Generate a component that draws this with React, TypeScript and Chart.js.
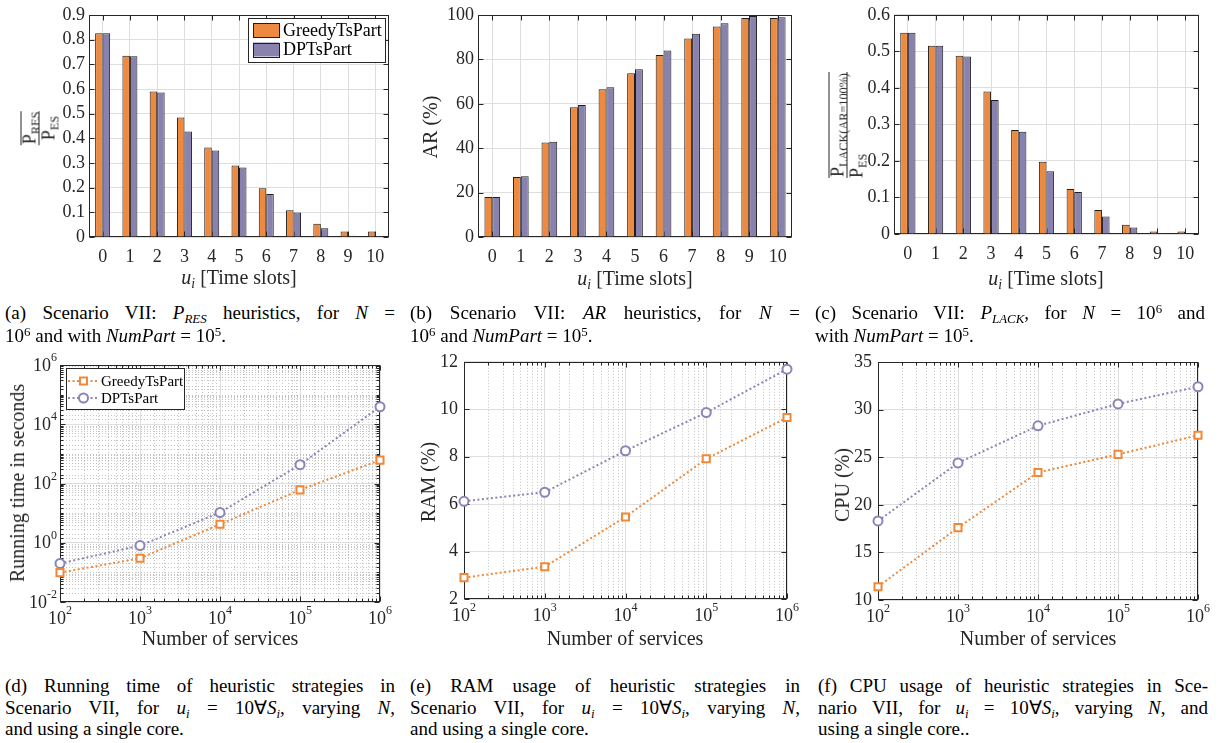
import React, { useEffect, useRef } from "react";
import { Chart, registerables } from "chart.js";

Chart.register(...registerables);

// ---------- data ----------
const slotLabels = ["0", "1", "2", "3", "4", "5", "6", "7", "8", "9", "10"];
const seriesNames = ["GreedyTsPart", "DPTsPart"];
const presGreedy = [0.826, 0.735, 0.59, 0.484, 0.363, 0.29, 0.198, 0.108, 0.054, 0.022, 0.022];
const presDP = [0.826, 0.733, 0.586, 0.428, 0.351, 0.282, 0.174, 0.099, 0.035, 0.005, 0.004];
const arGreedy = [18.0, 27.0, 42.6, 58.5, 66.6, 73.8, 82.0, 89.4, 94.8, 98.7, 98.7];
const arDP = [18.0, 27.4, 42.9, 59.5, 67.5, 75.6, 84.0, 91.5, 96.3, 99.6, 99.0];
const plackGreedy = [0.551, 0.515, 0.488, 0.39, 0.285, 0.198, 0.123, 0.066, 0.025, 0.007, 0.007];
const plackDP = [0.551, 0.515, 0.486, 0.367, 0.28, 0.172, 0.115, 0.048, 0.018, 0.003, 0.001];
const services = [1e2, 1e3, 1e4, 1e5, 1e6];
const runGreedy = [0.098, 0.3, 4.2, 61, 615];
const runDP = [0.2, 0.8, 10.5, 430, 39000];
const ramGreedy = [2.9, 3.36, 5.46, 7.91, 9.65];
const ramDP = [6.12, 6.5, 8.25, 9.86, 11.69];
const cpuGreedy = [11.4, 17.6, 23.4, 25.3, 27.3];
const cpuDP = [18.3, 24.4, 28.3, 30.6, 32.4];
const serviceExps = [2, 3, 4, 5, 6];
const runTimeExps = [-2, 0, 2, 4, 6];

// ---------- styles ----------
const FONT = '"Liberation Serif", "Times New Roman", serif';
const ORANGE = "#EE8A3F";
const PURPLE = "#8A82AE";
const LINE_ORANGE = "#F08838";
const LINE_PURPLE = "#8C84B6";
const EDGE = "#1e1e1e";
const AXIS = "#262626";
const GRID = "#dedede";
const MINOR = "#c4c4c4";
const TICK_SIZE = 18;

const isPow10 = (v: number, exps?: number[]) => {
  if (!exps) return false;
  const l = Math.log10(v);
  const r = Math.round(l);
  return Math.abs(l - r) < 1e-6 && exps.indexOf(r) >= 0;
};

const drawPowLabel = (ctx: any, exp: number, x: number, y: number, align: string) => {
  ctx.font = `${TICK_SIZE}px ${FONT}`;
  const wb = ctx.measureText("10").width;
  ctx.font = `12px ${FONT}`;
  const es = String(exp);
  const we = ctx.measureText(es).width;
  const sx = align === "center" ? x - (wb + we) / 2 : x - (wb + we);
  ctx.textBaseline = "middle";
  ctx.textAlign = "left";
  ctx.fillStyle = AXIS;
  ctx.font = `${TICK_SIZE}px ${FONT}`;
  ctx.fillText("10", sx, y);
  ctx.font = `12px ${FONT}`;
  ctx.fillText(es, sx + wb, y - 8);
};

const matlabPlugin = {
  id: "matlab",
  beforeDatasetsDraw(chart: any, _a: any, opts: any) {
    const { ctx, chartArea: ca } = chart;
    ctx.save();
    ctx.strokeStyle = MINOR;
    ctx.lineWidth = 1;
    ctx.setLineDash([1, 2]);
    ["x", "y"].forEach((id) => {
      const sc = chart.scales[id];
      if (sc.type !== "logarithmic") return;
      const exps = id === "x" ? opts.xExps : opts.yExps;
      sc.ticks.forEach((t: any) => {
        if (isPow10(t.value, exps)) return;
        const p = Math.round(sc.getPixelForValue(t.value)) + 0.5;
        ctx.beginPath();
        if (id === "x") {
          if (p <= ca.left + 1 || p >= ca.right - 1) return;
          ctx.moveTo(p, ca.top);
          ctx.lineTo(p, ca.bottom);
        } else {
          if (p <= ca.top + 1 || p >= ca.bottom - 1) return;
          ctx.moveTo(ca.left, p);
          ctx.lineTo(ca.right, p);
        }
        ctx.stroke();
      });
    });
    ctx.setLineDash([]);
    ctx.strokeStyle = AXIS;
    ctx.lineWidth = 1;
    const l = Math.round(ca.left) + 0.5;
    const r = Math.round(ca.right) - 0.5;
    const t = Math.round(ca.top) + 0.5;
    const b = Math.round(ca.bottom) - 0.5;
    ctx.strokeRect(l, t, r - l, b - t);
    ["x", "y"].forEach((id) => {
      const sc = chart.scales[id];
      const isLog = sc.type === "logarithmic";
      const exps = id === "x" ? opts.xExps : opts.yExps;
      sc.ticks.forEach((tk: any, i: number) => {
        const major = !isLog || isPow10(tk.value, exps);
        const len = major ? 5 : 3;
        const p = Math.round(sc.getPixelForTick(i)) + 0.5;
        ctx.beginPath();
        if (id === "x") {
          ctx.moveTo(p, b);
          ctx.lineTo(p, b - len);
          ctx.moveTo(p, t);
          ctx.lineTo(p, t + len);
        } else {
          ctx.moveTo(l, p);
          ctx.lineTo(l + len, p);
          ctx.moveTo(r, p);
          ctx.lineTo(r - len, p);
        }
        ctx.stroke();
      });
    });
    ctx.restore();
  },
  afterDraw(chart: any, _a: any, opts: any) {
    const { ctx, chartArea: ca } = chart;
    ctx.save();
    if (opts.xExps) {
      const sc = chart.scales.x;
      opts.xExps.forEach((e: number) => {
        drawPowLabel(ctx, e, sc.getPixelForValue(Math.pow(10, e)), ca.bottom + 17, "center");
      });
    }
    if (opts.yExps) {
      const sc = chart.scales.y;
      opts.yExps.forEach((e: number) => {
        drawPowLabel(ctx, e, ca.left - 3, sc.getPixelForValue(Math.pow(10, e)) + 1, "right");
      });
    }
    const lg = opts.legend;
    if (lg) {
      const ox = opts.origin[0];
      const oy = opts.origin[1];
      const bx = lg.box[0] - ox + 0.5;
      const by = lg.box[1] - oy + 0.5;
      const bw = lg.box[2] - lg.box[0];
      const bh = lg.box[3] - lg.box[1];
      ctx.fillStyle = "#fff";
      ctx.fillRect(bx, by, bw, bh);
      ctx.strokeStyle = AXIS;
      ctx.lineWidth = 1;
      ctx.strokeRect(bx, by, bw, bh);
      chart.data.datasets.forEach((ds: any, i: number) => {
        const cy = lg.rows[i] - oy;
        const x1 = lg.sw[0] - ox;
        const x2 = lg.sw[1] - ox;
        if (lg.kind === "bar") {
          ctx.fillStyle = ds.backgroundColor;
          ctx.fillRect(x1, cy - lg.sh / 2, x2 - x1, lg.sh);
          ctx.strokeStyle = EDGE;
          ctx.lineWidth = 1;
          ctx.strokeRect(Math.round(x1) + 0.5, Math.round(cy - lg.sh / 2) + 0.5, x2 - x1, lg.sh);
        } else {
          ctx.strokeStyle = ds.borderColor;
          ctx.lineWidth = 2;
          ctx.setLineDash([2, 2.5]);
          ctx.beginPath();
          ctx.moveTo(x1, cy);
          ctx.lineTo(x2, cy);
          ctx.stroke();
          ctx.setLineDash([]);
          const mx = (x1 + x2) / 2;
          ctx.fillStyle = "#fff";
          ctx.strokeStyle = ds.pointBorderColor;
          ctx.beginPath();
          if (ds.pointStyle === "rect") {
            const s = ds.pointRadius * Math.SQRT1_2;
            ctx.rect(mx - s, cy - s, 2 * s, 2 * s);
          } else {
            ctx.arc(mx, cy, ds.pointRadius, 0, Math.PI * 2);
          }
          ctx.fill();
          ctx.stroke();
        }
        ctx.fillStyle = "#000";
        ctx.font = `${lg.fs}px ${FONT}`;
        ctx.textAlign = "left";
        ctx.textBaseline = "middle";
        ctx.fillText(ds.label, lg.tx - ox, cy + 1);
      });
    }
    ctx.restore();
  },
};

type Box = { x: number; y: number; w: number; h: number };
type Plot = { L: number; T: number; R: number; B: number };

function ChartPanel({ box, plot, build }: { box: Box; plot: Plot; build: () => any }) {
  const ref = useRef<HTMLCanvasElement>(null);
  useEffect(() => {
    const cfg = build();
    cfg.options.layout = {
      padding: { left: 0, top: plot.T - box.y, right: box.x + box.w - plot.R, bottom: 0 },
    };
    cfg.options.scales.x.afterFit = (s: any) => {
      s.height = box.y + box.h - plot.B;
    };
    cfg.options.scales.y.afterFit = (s: any) => {
      s.width = plot.L - box.x;
    };
    cfg.options.plugins.matlab.origin = [box.x, box.y];
    const chart = new Chart(ref.current as HTMLCanvasElement, cfg);
    return () => chart.destroy();
  }, []);
  return (
    <div style={{ position: "absolute", left: box.x, top: box.y, width: box.w, height: box.h }}>
      <canvas ref={ref} width={box.w} height={box.h} style={{ width: box.w, height: box.h, display: "block" }} />
    </div>
  );
}

const tickFont = { family: FONT, size: TICK_SIZE };

function barBuild(g: number[], d: number[], yMax: number, yStep: number, decimals: number, legend: any) {
  return () => ({
    type: "bar",
    data: {
      labels: slotLabels,
      datasets: [
        { label: seriesNames[0], data: g, backgroundColor: ORANGE, borderColor: EDGE, borderWidth: 1, barPercentage: 1, categoryPercentage: 0.55 },
        { label: seriesNames[1], data: d, backgroundColor: PURPLE, borderColor: EDGE, borderWidth: 1, barPercentage: 1, categoryPercentage: 0.55 },
      ],
    },
    options: {
      responsive: false,
      animation: false,
      devicePixelRatio: 1,
      plugins: { legend: { display: false }, tooltip: { enabled: false }, matlab: { legend } },
      scales: {
        x: {
          grid: { color: GRID, offset: false, drawTicks: false },
          border: { display: false },
          ticks: { font: tickFont, color: AXIS, padding: 9, maxRotation: 0, autoSkip: false },
        },
        y: {
          min: 0,
          max: yMax,
          grid: { color: GRID, drawTicks: false },
          border: { display: false },
          ticks: {
            stepSize: yStep,
            font: tickFont,
            color: AXIS,
            padding: 4,
            callback: (v: number) => (Math.abs(v) < 1e-9 ? "0" : v.toFixed(decimals)),
          },
        },
      },
    },
    plugins: [matlabPlugin],
  });
}

function lineBuild(g: number[], d: number[], yScale: any, yExps: number[] | undefined, legend: any) {
  return () => ({
    type: "line",
    data: {
      datasets: [
        {
          label: seriesNames[0],
          data: services.map((s, i) => ({ x: s, y: g[i] })),
          borderColor: LINE_ORANGE,
          borderWidth: 2,
          borderDash: [2, 2.5],
          pointStyle: "rect",
          pointRadius: 5,
          pointBorderWidth: 2,
          pointBackgroundColor: "#fff",
          pointBorderColor: LINE_ORANGE,
          clip: false,
        },
        {
          label: seriesNames[1],
          data: services.map((s, i) => ({ x: s, y: d[i] })),
          borderColor: LINE_PURPLE,
          borderWidth: 2,
          borderDash: [2, 2.5],
          pointStyle: "circle",
          pointRadius: 4.5,
          pointBorderWidth: 2,
          pointBackgroundColor: "#fff",
          pointBorderColor: LINE_PURPLE,
          clip: false,
        },
      ],
    },
    options: {
      responsive: false,
      animation: false,
      devicePixelRatio: 1,
      plugins: { legend: { display: false }, tooltip: { enabled: false }, matlab: { legend, xExps: serviceExps, yExps } },
      scales: {
        x: {
          type: "logarithmic",
          min: 1e2,
          max: 1e6,
          grid: {
            drawTicks: false,
            color: (c: any) => (c.tick && isPow10(c.tick.value, serviceExps) ? GRID : "rgba(0,0,0,0)"),
          },
          border: { display: false },
          ticks: { display: false, autoSkip: false },
        },
        y: yScale,
      },
    },
    plugins: [matlabPlugin],
  });
}

const linY = (min: number, max: number, step: number) => ({
  min,
  max,
  grid: { color: GRID, drawTicks: false },
  border: { display: false },
  ticks: { stepSize: step, font: tickFont, color: AXIS, padding: 6 },
});

const logY = {
  type: "logarithmic",
  min: 1e-2,
  max: 1e6,
  grid: {
    drawTicks: false,
    color: (c: any) => (c.tick && isPow10(c.tick.value, runTimeExps) ? GRID : "rgba(0,0,0,0)"),
  },
  border: { display: false },
  ticks: { display: false, autoSkip: false },
};

// ---------- text helpers ----------
const subS: any = { fontSize: "0.68em", verticalAlign: "-0.3em", lineHeight: 0 };
const supS: any = { fontSize: "0.68em", verticalAlign: "0.5em", lineHeight: 0 };

function Cap({ x, y, last, children }: any) {
  return (
    <div
      style={{
        position: "absolute",
        left: x,
        top: y - 11,
        width: 390,
        height: 22,
        lineHeight: "22px",
        fontSize: 19,
        fontFamily: FONT,
        textAlign: last ? "left" : "justify",
        textAlignLast: last ? "left" : "justify",
        color: "#000",
      } as any}
    >
      {children}
    </div>
  );
}

function XTitle({ x, y, children }: any) {
  return (
    <div
      style={{
        position: "absolute",
        left: x,
        top: y,
        transform: "translate(-50%, -50%)",
        fontFamily: FONT,
        fontSize: 20,
        lineHeight: "24px",
        whiteSpace: "nowrap",
        color: AXIS,
      }}
    >
      {children}
    </div>
  );
}

function YTitle({ x, y, children }: any) {
  return (
    <div
      style={{
        position: "absolute",
        left: x,
        top: y,
        transform: "translate(-50%, -50%) rotate(-90deg)",
        fontFamily: FONT,
        fontSize: 20,
        lineHeight: "24px",
        whiteSpace: "nowrap",
        color: AXIS,
      }}
    >
      {children}
    </div>
  );
}

function Frac({ num, den, align }: any) {
  return (
    <div style={{ display: "inline-flex", flexDirection: "column", alignItems: "stretch", fontSize: 18 }}>
      <div style={{ borderTop: `1px solid ${AXIS}`, lineHeight: "17px", padding: "0 1px", textAlign: "center" }}>{num}</div>
      <div style={{ borderTop: `1px solid ${AXIS}`, lineHeight: "17px", textAlign: align || "center", paddingTop: 1 }}>{den}</div>
    </div>
  );
}

const ui = (
  <>
    <i>u</i>
    <i style={subS}>i</i>
  </>
);

export default function App() {
  const barLegend = { kind: "bar", box: [248, 18, 385, 62], rows: [30, 49.5], sw: [253, 279], sh: 14, tx: 283, fs: 18 };
  const lineLegend = { kind: "line", box: [66, 368, 184, 409], rows: [381, 398], sw: [68, 99], tx: 101, fs: 15 };
  return (
    <div style={{ position: "absolute", left: 0, top: 0, width: 1219, height: 743, background: "#fff", overflow: "hidden" }}>
      <ChartPanel box={{ x: 0, y: 0, w: 405, h: 290 }} plot={{ L: 89, T: 15, R: 389, B: 237 }} build={barBuild(presGreedy, presDP, 0.9, 0.1, 1, barLegend)} />
      <ChartPanel box={{ x: 405, y: 0, w: 405, h: 290 }} plot={{ L: 478, T: 15, R: 792, B: 237 }} build={barBuild(arGreedy, arDP, 100, 20, 0, null)} />
      <ChartPanel box={{ x: 810, y: 0, w: 409, h: 290 }} plot={{ L: 894, T: 12, R: 1199, B: 234 }} build={barBuild(plackGreedy, plackDP, 0.6, 0.1, 1, null)} />
      <ChartPanel box={{ x: 0, y: 345, w: 405, h: 300 }} plot={{ L: 60, T: 365, R: 380, B: 602 }} build={lineBuild(runGreedy, runDP, logY, runTimeExps, lineLegend)} />
      <ChartPanel box={{ x: 405, y: 345, w: 405, h: 300 }} plot={{ L: 464, T: 361, R: 787, B: 599 }} build={lineBuild(ramGreedy, ramDP, linY(2, 12, 2), undefined, null)} />
      <ChartPanel box={{ x: 810, y: 345, w: 409, h: 300 }} plot={{ L: 878, T: 362, R: 1198, B: 600 }} build={lineBuild(cpuGreedy, cpuDP, linY(10, 35, 5), undefined, null)} />

      {/* axis titles */}
      <XTitle x={239} y={277}>{ui} [Time slots]</XTitle>
      <XTitle x={635} y={278}>{ui} [Time slots]</XTitle>
      <XTitle x={1046} y={278}>{ui} [Time slots]</XTitle>
      <XTitle x={220} y={638}>Number of services</XTitle>
      <XTitle x={625} y={638}>Number of services</XTitle>
      <XTitle x={1038} y={638}>Number of services</XTitle>

      <YTitle x={37} y={128}>
        <Frac num={<>P<span style={subS}>RES</span></>} den={<>P<span style={subS}>ES</span></>} />
      </YTitle>
      <YTitle x={430} y={127}>AR (%)</YTitle>
      <YTitle x={845} y={125}>
        <Frac num={<>P<span style={subS}>LACK(AR=100%)</span></>} den={<>P<span style={subS}>ES</span></>} align="left" />
      </YTitle>
      <YTitle x={17} y={483}>Running time in seconds</YTitle>
      <YTitle x={428} y={482}>RAM (%)</YTitle>
      <YTitle x={842} y={485}>CPU (%)</YTitle>

      {/* captions */}
      <Cap x={5} y={313}>(a) Scenario VII: <i>P</i><i style={subS}>RES</i> heuristics, for <i>N</i> =</Cap>
      <Cap x={5} y={336} last>10<span style={supS}>6</span> and with <i>NumPart</i> = 10<span style={supS}>5</span>.</Cap>
      <Cap x={410} y={313}>(b) Scenario VII: <i>AR</i> heuristics, for <i>N</i> =</Cap>
      <Cap x={410} y={336} last>10<span style={supS}>6</span> and <i>NumPart</i> = 10<span style={supS}>5</span>.</Cap>
      <Cap x={815} y={313}>(c) Scenario VII: <i>P</i><i style={subS}>LACK</i>, for <i>N</i> = 10<span style={supS}>6</span> and</Cap>
      <Cap x={815} y={336} last>with <i>NumPart</i> = 10<span style={supS}>5</span>.</Cap>

      <Cap x={5} y={686}>(d) Running time of heuristic strategies in</Cap>
      <Cap x={5} y={708}>Scenario VII, for {ui} = 10∀<i>S</i><i style={subS}>i</i>, varying <i>N</i>,</Cap>
      <Cap x={5} y={729} last>and using a single core.</Cap>
      <Cap x={410} y={686}>(e) RAM usage of heuristic strategies in</Cap>
      <Cap x={410} y={708}>Scenario VII, for {ui} = 10∀<i>S</i><i style={subS}>i</i>, varying <i>N</i>,</Cap>
      <Cap x={410} y={729} last>and using a single core.</Cap>
      <Cap x={818} y={686}>(f) CPU usage of heuristic strategies in Sce-</Cap>
      <Cap x={818} y={708}>nario VII, for {ui} = 10∀<i>S</i><i style={subS}>i</i>, varying <i>N</i>, and</Cap>
      <Cap x={818} y={729} last>using a single core..</Cap>
    </div>
  );
}
